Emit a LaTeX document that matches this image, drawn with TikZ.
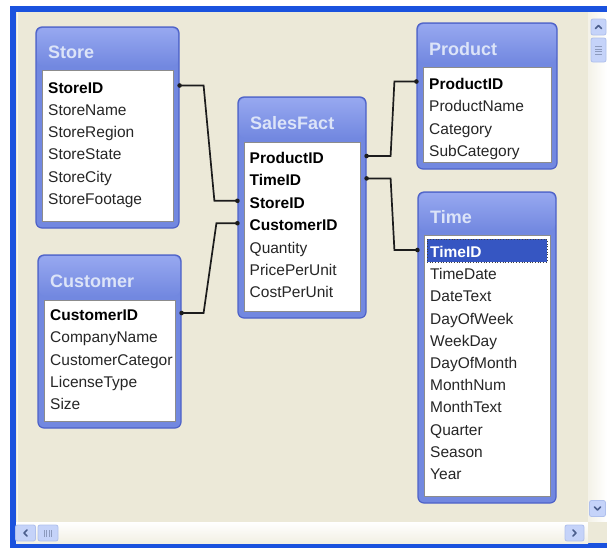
\documentclass[tikz,border=0pt]{standalone}
\usepackage{fontspec}
\setmainfont{Liberation Sans}
\usetikzlibrary{calc}
\definecolor{winbg}{HTML}{ECE9D8}
\definecolor{frameblue}{HTML}{1A52DE}
\definecolor{tblfill}{HTML}{7288E0}
\definecolor{tbltop}{HTML}{97A8F0}
\definecolor{tblborder}{HTML}{4E62C8}
\definecolor{titletext}{HTML}{DCE4F8}
\definecolor{selblue}{HTML}{3656C2}
\definecolor{btnfill}{HTML}{C5D3F9}
\definecolor{btnborder}{HTML}{AFC0EC}
\definecolor{arrowc}{HTML}{4B5E8C}
\definecolor{connc}{HTML}{1C1C1C}
\tikzset{
  tblbox/.style={draw=tblborder, fill=tblfill, line width=1.2pt, rounded corners=6pt, inner sep=0pt},
  tblinner/.style={draw=black!45, fill=white, line width=0.8pt, inner sep=0pt},
  tbltitle/.style={text=titletext, font=\fontsize{18}{22}\selectfont\bfseries, inner sep=0pt, anchor=west},
  fld/.style={font=\fontsize{15.5}{18}\selectfont, text=black!85, inner sep=0pt, anchor=base west, text height=15pt, text depth=0pt},
  keyfld/.style={fld, font=\fontsize{15.5}{18}\selectfont\bfseries, text=black},
  conn/.style={draw=connc, line width=1.7pt, line join=miter},
  enddot/.style={fill=connc},
  selrow/.style={fill=selblue, draw=black!75, dotted, line width=0.7pt, inner sep=0pt},
  sbtn/.style={draw=btnborder, fill=btnfill, rounded corners=2pt, inner sep=0pt, line width=0.8pt},
  chev/.style={draw=arrowc, line width=1.7pt, line cap=round, line join=round},
  grip/.style={draw=btnborder!80!black, line width=0.6pt}
}
% #1 name, #2 x1, #3 y1, #4 x2, #5 y2, #6 title, #7 inner top
\newcommand\dbtable[7]{%
  \node[tblbox, minimum width={(#4-#2)*1pt}, minimum height={(#5-#3)*1pt}] (#1) at ({(#2+#4)/2},{(#3+#5)/2}) {};
  \shade[top color=tbltop, bottom color=tblfill, rounded corners=6pt] ({#2+1},{#3+1}) rectangle ({#4-1},{#7-4});
  \node[tbltitle] (#1-title) at ({#2+12},{(#3+#7)/2+4}) {#6};
  \node[tblinner, minimum width={(#4-#2-12)*1pt}, minimum height={(#5-#7-7)*1pt}] (#1-list) at ({(#2+#4)/2},{(#7+#5-7)/2}) {};
}
% #1 name, #2 x, #3 row centre y, #4 text, #5 style
\newcommand\dbrow[5]{\node[#5] (#1) at (#2,{#3+5.5}) {#4};}
% relationship: #1 start, #2 first offset, #3 end, #4 second offset
\newcommand\dblink[4]{%
  \draw[conn] #1 -- ++(#2,0) -- ($#3+(#4,0)$) -- #3;
  \fill[enddot] #1 circle (2.3);
  \fill[enddot] #3 circle (2.3);
}
\begin{document}
\begin{tikzpicture}[x=1pt,y=-1pt]
\useasboundingbox (0,0) rectangle (607,550);
\fill[white] (0,0) rectangle (607,550);
% window frame
\fill[frameblue] (10,6) rectangle (607,548);
\fill[winbg] (16,12) rectangle (607,543);
\draw[white!60!winbg, line width=1.5pt] (17.5,12) -- (17.5,522);
% scroll tracks
\shade[left color=winbg!60!white, right color=white] (588,12) rectangle (607,522);
\shade[top color=white, bottom color=winbg!70!white] (16,522) rectangle (588,543);
\fill[winbg] (588,522) rectangle (607,543);
% vertical scrollbar
\node[sbtn, minimum width=15pt, minimum height=16pt] (upbtn) at (598.5,27) {};
\draw[chev] ([xshift=-3pt,yshift=-1.5pt]upbtn.center) -- ([yshift=1.5pt]upbtn.center) -- ([xshift=3pt,yshift=-1.5pt]upbtn.center);
\node[sbtn, minimum width=15pt, minimum height=24pt] (vthumb) at (598.5,50) {};
\foreach \d in {-4,-1.5,1,3.5} \draw[grip] ([xshift=-3.5pt,yshift=\d pt]vthumb.center) -- ([xshift=3.5pt,yshift=\d pt]vthumb.center);
\node[sbtn, minimum width=16pt, minimum height=16pt] (dnbtn) at (597.5,508.5) {};
\draw[chev] ([xshift=-3pt,yshift=1.5pt]dnbtn.center) -- ([yshift=-1.5pt]dnbtn.center) -- ([xshift=3pt,yshift=1.5pt]dnbtn.center);
% horizontal scrollbar
\node[sbtn, minimum width=20pt, minimum height=16pt] (lfbtn) at (25.5,533) {};
\draw[chev] ([xshift=1.5pt,yshift=3pt]lfbtn.center) -- ([xshift=-1.5pt]lfbtn.center) -- ([xshift=1.5pt,yshift=-3pt]lfbtn.center);
\node[sbtn, minimum width=20pt, minimum height=16pt] (hthumb) at (48,533) {};
\foreach \d in {-4,-1.5,1,3.5} \draw[grip] ([xshift=\d pt,yshift=-3.5pt]hthumb.center) -- ([xshift=\d pt,yshift=3.5pt]hthumb.center);
\node[sbtn, minimum width=19pt, minimum height=16pt] (rtbtn) at (574.5,533) {};
\draw[chev] ([xshift=-1.5pt,yshift=3pt]rtbtn.center) -- ([xshift=1.5pt]rtbtn.center) -- ([xshift=-1.5pt,yshift=-3pt]rtbtn.center);

% tables
\dbtable{store}{36}{27}{179}{228}{Store}{70}
\dbrow{st1}{48}{87.5}{StoreID}{keyfld}
\dbrow{st2}{48}{109.8}{StoreName}{fld}
\dbrow{st3}{48}{132.1}{StoreRegion}{fld}
\dbrow{st4}{48}{154.4}{StoreState}{fld}
\dbrow{st5}{48}{176.7}{StoreCity}{fld}
\dbrow{st6}{48}{199}{StoreFootage}{fld}

\dbtable{cust}{38}{255}{181}{428}{Customer}{300}
\dbrow{cu1}{50}{315}{CustomerID}{keyfld}
\begin{scope}
\clip (44,300) rectangle (172.5,421);
\dbrow{cu2}{50}{337.3}{CompanyName}{fld}
\dbrow{cu3}{50}{359.6}{CustomerCategory}{fld}
\dbrow{cu4}{50}{381.9}{LicenseType}{fld}
\dbrow{cu5}{50}{404.2}{Size}{fld}
\end{scope}

\dbtable{sales}{238}{97}{366}{318}{SalesFact}{142}
\dbrow{sf1}{249.5}{158}{ProductID}{keyfld}
\dbrow{sf2}{249.5}{180.4}{TimeID}{keyfld}
\dbrow{sf3}{249.5}{202.8}{StoreID}{keyfld}
\dbrow{sf4}{249.5}{225.2}{CustomerID}{keyfld}
\dbrow{sf5}{249.5}{247.6}{Quantity}{fld}
\dbrow{sf6}{249.5}{270}{PricePerUnit}{fld}
\dbrow{sf7}{249.5}{292.4}{CostPerUnit}{fld}

\dbtable{prod}{417}{23}{557}{169}{Product}{67}
\dbrow{p1}{429}{83.5}{ProductID}{keyfld}
\dbrow{p2}{429}{106}{ProductName}{fld}
\dbrow{p3}{429}{128.5}{Category}{fld}
\dbrow{p4}{429}{151}{SubCategory}{fld}

\dbtable{time}{418}{192}{556}{503}{Time}{235}
\node[selrow, minimum width=120pt, minimum height=23pt] (tsel) at (487,250.5) {};
\dbrow{t1}{430}{252}{TimeID}{keyfld, text=white}
\dbrow{t2}{430}{274.2}{TimeDate}{fld}
\dbrow{t3}{430}{296.4}{DateText}{fld}
\dbrow{t4}{430}{318.6}{DayOfWeek}{fld}
\dbrow{t5}{430}{340.8}{WeekDay}{fld}
\dbrow{t6}{430}{363}{DayOfMonth}{fld}
\dbrow{t7}{430}{385.2}{MonthNum}{fld}
\dbrow{t8}{430}{407.4}{MonthText}{fld}
\dbrow{t9}{430}{429.6}{Quarter}{fld}
\dbrow{t10}{430}{451.8}{Season}{fld}
\dbrow{t11}{430}{474}{Year}{fld}

% relationships
\dblink{(store.east |- st1)}{24}{(sales.west |- sf3)}{-23}
\dblink{(cust.east |- cu1)}{22}{(sales.west |- sf4)}{-21}
\dblink{(sales.east |- sf1)}{24}{(prod.west |- p1)}{-22}
\dblink{(sales.east |- sf2)}{24}{(time.west |- t1)}{-23}
\end{tikzpicture}
\end{document}
